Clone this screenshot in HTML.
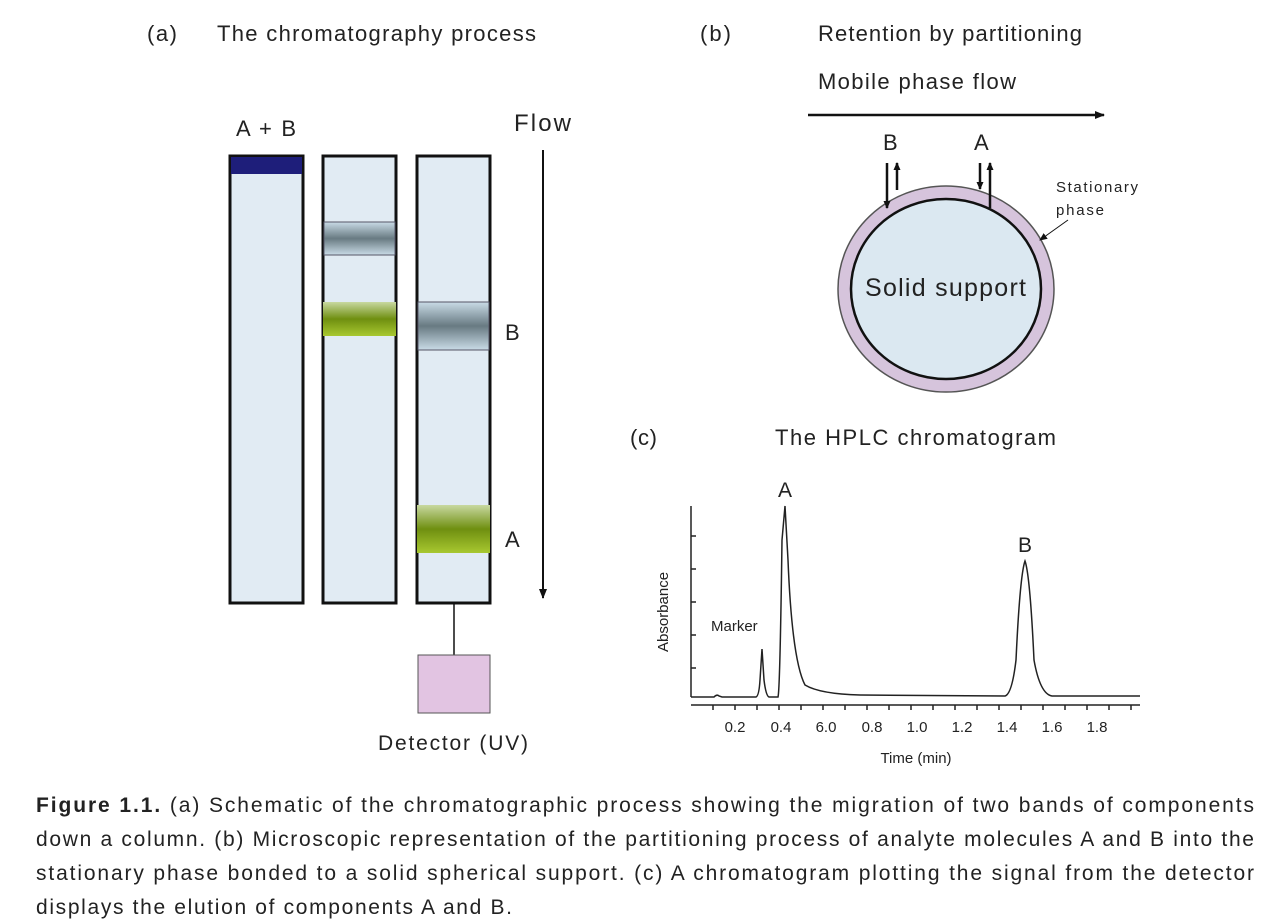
<!DOCTYPE html>
<html><head><meta charset="utf-8"><style>
html,body{margin:0;padding:0;background:#fff;}
svg{display:block;font-family:"Liberation Sans",Arial,sans-serif;}
</style></head><body>
<svg width="1280" height="922" viewBox="0 0 1280 922" xmlns="http://www.w3.org/2000/svg">
<defs>
<linearGradient id="gg" x1="0" y1="0" x2="0" y2="1">
<stop offset="0" stop-color="#c8d8a0"/><stop offset="0.5" stop-color="#6f8f10"/><stop offset="1" stop-color="#a8c830"/>
</linearGradient>
<linearGradient id="gb" x1="0" y1="0" x2="0" y2="1">
<stop offset="0" stop-color="#c9dbe6"/><stop offset="0.5" stop-color="#687a82"/><stop offset="1" stop-color="#c9dbe6"/>
</linearGradient>
<marker id="ah" markerWidth="10" markerHeight="10" refX="9" refY="5" orient="auto" markerUnits="userSpaceOnUse"><path d="M0,1 L10,5 L0,9 z" fill="#111"/></marker>
<marker id="as" markerWidth="8" markerHeight="8" refX="7" refY="4" orient="auto" markerUnits="userSpaceOnUse"><path d="M0,0.5 L8,4 L0,7.5 z" fill="#111"/></marker>
</defs>
<g font-size="22" fill="#222" lengthAdjust="spacing">
<text x="147" y="41" textLength="30">(a)</text>
<text x="217" y="41" textLength="319">The chromatography process</text>
<text x="700" y="41" textLength="31">(b)</text>
<text x="818" y="41" textLength="264">Retention by partitioning</text>
<text x="818" y="89" textLength="198">Mobile phase flow</text>
<text x="630" y="445" textLength="27">(c)</text>
<text x="775" y="445" textLength="281">The HPLC chromatogram</text>
</g>
<!-- panel a -->
<text x="236" y="136" font-size="22" fill="#222" textLength="60">A + B</text>
<text x="514" y="131" font-size="24" fill="#222" textLength="57">Flow</text>
<g stroke="#111" stroke-width="3" fill="#e1ebf3">
<rect x="230" y="156" width="73" height="447"/>
<rect x="323" y="156" width="73" height="447"/>
<rect x="417" y="156" width="73" height="447"/>
</g>
<rect x="231" y="157" width="71" height="17" fill="#1e1e7a"/>
<rect x="324" y="222" width="71" height="33" fill="url(#gb)" stroke="#556" stroke-width="1"/>
<rect x="323" y="302" width="73" height="34" fill="url(#gg)"/>
<rect x="418" y="302" width="71" height="48" fill="url(#gb)" stroke="#556" stroke-width="1"/>
<rect x="417" y="505" width="73" height="48" fill="url(#gg)"/>
<text x="505" y="340" font-size="22" fill="#222">B</text>
<text x="505" y="547" font-size="22" fill="#222">A</text>
<line x1="543" y1="150" x2="543" y2="598" stroke="#111" stroke-width="2" marker-end="url(#ah)"/>
<line x1="454" y1="603" x2="454" y2="655" stroke="#111" stroke-width="1.5"/>
<rect x="418" y="655" width="72" height="58" fill="#e2c4e2" stroke="#555" stroke-width="1"/>
<text x="378" y="750" font-size="21" fill="#222" textLength="150" lengthAdjust="spacing">Detector (UV)</text>
<!-- panel b -->
<line x1="808" y1="115" x2="1104" y2="115" stroke="#111" stroke-width="2.5" marker-end="url(#ah)"/>
<ellipse cx="946" cy="289" rx="108" ry="103" fill="#d6c4dc" stroke="#555" stroke-width="1.5"/>
<ellipse cx="946" cy="289" rx="95" ry="90" fill="#dbe8f1" stroke="#111" stroke-width="2.5"/>
<text x="865" y="296" font-size="25" fill="#222" textLength="161" lengthAdjust="spacing">Solid support</text>
<text x="883" y="150" font-size="22" fill="#222">B</text>
<text x="974" y="150" font-size="22" fill="#222">A</text>
<g stroke="#111" stroke-width="2.5">
<line x1="887" y1="163" x2="887" y2="208" marker-end="url(#as)"/>
<line x1="897" y1="190" x2="897" y2="163" marker-end="url(#as)"/>
<line x1="980" y1="163" x2="980" y2="189" marker-end="url(#as)"/>
<line x1="990" y1="208" x2="990" y2="163" marker-end="url(#as)"/>
</g>
<text x="1056" y="192" font-size="15" fill="#222" textLength="82" lengthAdjust="spacing">Stationary</text>
<text x="1056" y="215" font-size="15" fill="#222" textLength="48" lengthAdjust="spacing">phase</text>
<line x1="1068" y1="220" x2="1040" y2="240" stroke="#111" stroke-width="1" marker-end="url(#as)"/>
<!-- panel c -->
<g stroke="#222" stroke-width="1.5" fill="none">
<line x1="691" y1="506" x2="691" y2="697"/>
<line x1="691" y1="705" x2="1140" y2="705"/>
<path d="M691,536h5M691,569h5M691,602h5M691,635h5M691,668h5"/>
<path d="M713,705v5M735,705v5M757,705v5M779,705v5M801,705v5M823,705v5M845,705v5M867,705v5M889,705v5M911,705v5M933,705v5M955,705v5M977,705v5M999,705v5M1021,705v5M1043,705v5M1065,705v5M1087,705v5M1109,705v5M1131,705v5"/>
<path d="M691,697 L714,697 Q717,694 719,696 L722,697 L756,697 Q759,696 760,680 L762,649 L764,680 Q766,696 769,697 L778,697 Q780,690 782,540 L785,506 L788,560 Q792,660 805,685 Q820,694 860,695 L1005,696 Q1012,694 1016,660 Q1020,575 1025,561 Q1030,575 1034,660 Q1040,694 1052,696 L1140,696"/>
</g>
<text x="778" y="497" font-size="21" fill="#222">A</text>
<text x="1018" y="552" font-size="21" fill="#222">B</text>
<text x="711" y="631" font-size="15" fill="#222">Marker</text>
<text transform="translate(668,652) rotate(-90)" font-size="15" fill="#222">Absorbance</text>
<g font-size="15" fill="#222" text-anchor="middle">
<text x="735" y="732">0.2</text><text x="781" y="732">0.4</text><text x="826" y="732">6.0</text>
<text x="872" y="732">0.8</text><text x="917" y="732">1.0</text><text x="962" y="732">1.2</text>
<text x="1007" y="732">1.4</text><text x="1052" y="732">1.6</text><text x="1097" y="732">1.8</text>
<text x="916" y="763">Time (min)</text>
</g>
<!-- caption -->
<g font-size="21" fill="#222" lengthAdjust="spacing">
<text x="36" y="812" textLength="1218"><tspan font-weight="bold">Figure 1.1.</tspan> (a) Schematic of the chromatographic process showing the migration of two bands of components</text>
<text x="36" y="846" textLength="1218">down a column. (b) Microscopic representation of the partitioning process of analyte molecules A and B into the</text>
<text x="36" y="880" textLength="1218">stationary phase bonded to a solid spherical support. (c) A chromatogram plotting the signal from the detector</text>
<text x="36" y="914" textLength="476">displays the elution of components A and B.</text>
</g>
</svg>
</body></html>
